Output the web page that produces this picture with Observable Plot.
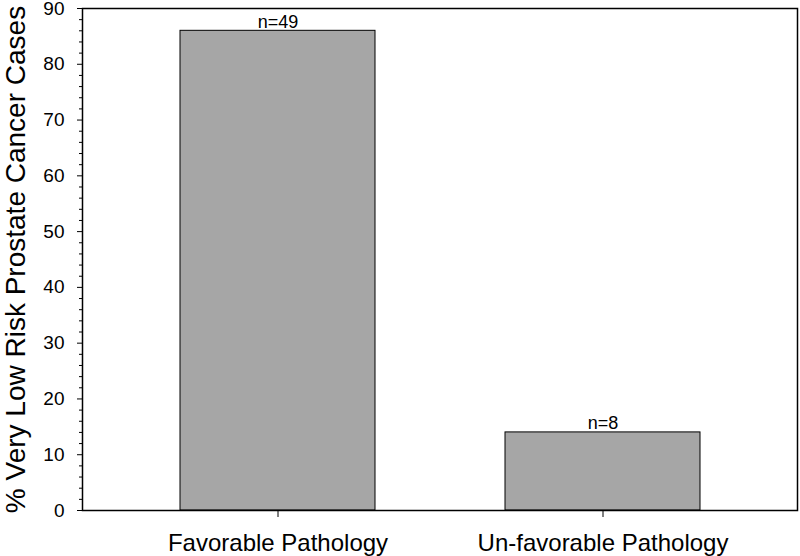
<!DOCTYPE html>
<html>
<head>
<meta charset="utf-8">
<script src="https://cdn.jsdelivr.net/npm/d3@7"></script>
<script src="https://cdn.jsdelivr.net/npm/@observablehq/plot@0.6"></script>
<style>
  html, body { margin: 0; padding: 0; background: #fff; }
  #chart svg { display: block; }
</style>
</head>
<body>
<div id="chart"></div>
<script>
const categories = ["Favorable Pathology", "Un-favorable Pathology"];
const percents = [86, 14];
const counts = [49, 8];
const yMajorTicks = [0, 10, 20, 30, 40, 50, 60, 70, 80, 90];
const yMinorTicks = [2, 4, 6, 8, 12, 14, 16, 18, 22, 24, 26, 28, 32, 34, 36, 38, 42, 44, 46, 48, 52, 54, 56, 58, 62, 64, 66, 68, 72, 74, 76, 78, 82, 84, 86, 88];
const yTitle = "% Very Low Risk Prostate Cancer Cases";

const data = categories.map((c, i) => ({category: c, value: percents[i], label: `n=${counts[i]}`}));

const chart = Plot.plot({
  width: 800,
  height: 556,
  marginLeft: 82,
  marginRight: 3,
  marginTop: 8,
  marginBottom: 46,
  style: {fontFamily: "'Liberation Sans', Arial, sans-serif", background: "#fff", color: "#000"},
  x: {domain: categories, paddingInner: 0.4, paddingOuter: 0.3, axis: null},
  y: {domain: [0, 90], axis: null},
  marks: [
    Plot.barY(data, {x: "category", y: "value", fill: "#a6a6a6", stroke: "#000", strokeWidth: 1}),
    Plot.text(data, {x: "category", y: "value", text: "label", dy: -3, lineAnchor: "bottom", fontSize: 18, fill: "#000"}),
    Plot.axisY(yMajorTicks, {tickSize: 5, tickPadding: 13, fontSize: 19, label: null, stroke: "#000", strokeWidth: 1, fill: "#000"}),
    Plot.axisY(yMinorTicks, {tickSize: 3, tickFormat: null, text: null, label: null, stroke: "#000", strokeWidth: 1}),
    Plot.axisX(categories, {tickSize: 7, tickPadding: 16, fontSize: 24, label: null, stroke: "#000", fill: "#000"}),
    Plot.text([yTitle], {text: d => d, frameAnchor: "left", textAnchor: "middle", rotate: -90, dx: -66, dy: 0, fontSize: 28, fill: "#000", lineAnchor: "middle"}),
    Plot.frame({stroke: "#000", strokeWidth: 1.5})
  ]
});
document.getElementById("chart").appendChild(chart);
</script>
</body>
</html>
